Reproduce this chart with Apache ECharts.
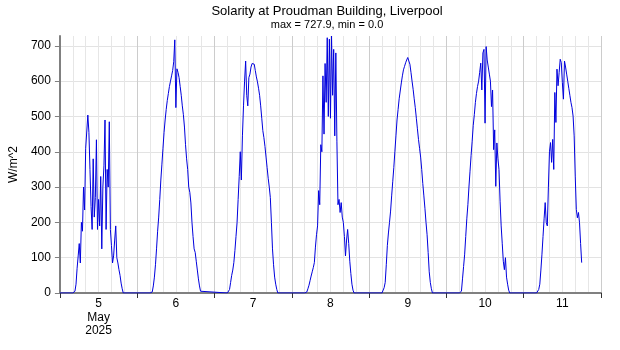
<!DOCTYPE html>
<html><head><meta charset="utf-8">
<script src="https://cdn.jsdelivr.net/npm/echarts@6/dist/echarts.min.js"></script>
<style>html,body{margin:0;padding:0;background:#fff}#c{width:620px;height:350px}</style>
</head><body><div id="c"></div>
<script>
const chartTitle = 'Solarity at Proudman Building, Liverpool';
const chartSubtitle = 'max = 727.9, min = 0.0';
const yAxisName = 'W/m^2';
const dayLabels = ['5\nMay\n2025', '6', '7', '8', '9', '10', '11'];
const yTickLabels = [0, 100, 200, 300, 400, 500, 600, 700];
const firstSampleHour = 4;      // each day array starts at 04:00 UTC
const stepHours = 1 / 3;        // 20-minute samples

const day5 = [0,0,5, 25,70,105, 140,85,200, 175,300,235, 410,405,504, 455,350,245, 180,380,215, 270,434,180, 265,190,330, 125,300,360, 490,180,350, 300,485,180, 135,85,105, 150,190,100, 85,66,50, 28,12,0, 0];
const day6 = [0,0,3, 20,45,80, 125,175,215, 265,320,365, 410,455,490, 520,545,565, 585,600,615, 630,655,717, 525,635,625, 610,585,560, 530,505,470, 420,380,350, 300,285,255, 200,160,125, 115,90,65, 40,20,5, 0];
const day7 = [0,0,10, 30,50,65, 86,120,160, 199,265,330, 400,320,445, 530,600,657, 560,530,610, 620,640,650, 655,648,630, 612,598,580, 560,530,495, 460,440,415, 385,355,325, 300,270,200, 125,80,45, 25,10,0, 0];
const day8 = [0,0,3, 12,22,35, 48,60,72, 86,130,165, 190,290,250, 420,400,615, 450,650,540, 723,500,719, 495,727.9,560, 690,445,680, 430,250,265, 228,256,215, 200,160,105, 150,180,140, 90,55,25, 8,0,0, 0];
const day9 = [0,2,15, 30,80,135, 170,200,232, 275,315,355, 400,445,490, 520,550,545, 595,615,632, 642,652,660, 667,657,648, 625,600,577, 550,525,495, 465,435,410, 385,350,310, 275,240,200, 165,115,60, 30,12,0, 0];
const day10 = [0,0,5, 40,75,110, 160,210,250, 300,345,390, 430,475,505, 540,565,585, 600,625,651, 575,680,690, 481,698,660, 640,620,600, 528,575,406, 462,302,425, 380,350,260, 190,141,90, 66,100,45, 25,8,0, 0];
const day11 = [0,0,10, 25,65,110, 160,210,256, 200,190,300, 400,426,370, 435,350,568, 483,634,587, 624,662,653, 596,549,657, 640,620,600, 580,560,540, 525,501,445, 331,237,213, 228,199,140, 86];

const days = [day5, day6, day7, day8, day9, day10, day11];
const seriesData = [[0, 0]];
days.forEach((arr, d) => arr.forEach((v, i) => seriesData.push([d * 24 + firstSampleHour + i * stepHours, v])));

const font = 'Liberation Sans, Arial, sans-serif';
const chart = echarts.init(document.getElementById('c'), null, {renderer: 'canvas'});
chart.setOption({
  animation: false,
  backgroundColor: '#fff',
  textStyle: {fontFamily: font},
  title: {
    text: chartTitle, subtext: chartSubtitle, left: 322, textAlign: 'center', top: 0, itemGap: 1,
    textStyle: {fontSize: 13, fontWeight: 'normal', color: '#000', fontFamily: font},
    subtextStyle: {fontSize: 11, color: '#000', fontFamily: font}
  },
  grid: {left: 54, right: 19, top: 36, bottom: 57, containLabel: false},
  xAxis: [
    {type: 'value', min: 0, max: 168, interval: 4,
     axisLine: {show: false}, axisTick: {show: false}, axisLabel: {show: false},
     splitLine: {show: true, lineStyle: {color: '#e6e6e6', width: 1}}},
    {type: 'value', min: 0, max: 168, interval: 24, position: 'bottom',
     axisLine: {show: true, onZero: false, lineStyle: {color: '#808080', width: 2}},
     axisTick: {show: true, length: 5, lineStyle: {color: '#333', width: 1}},
     axisLabel: {show: true, customValues: [12, 36, 60, 84, 108, 132, 156],
       formatter: v => dayLabels[Math.round((v - 12) / 24)],
       fontSize: 12, color: '#000', lineHeight: 13.5, margin: 4, fontFamily: font},
     splitLine: {show: true, lineStyle: {color: '#cccccc', width: 1}}}
  ],
  yAxis: {
    type: 'value', min: 0, max: 727.9, interval: 50,
    name: yAxisName, nameLocation: 'middle', nameGap: 34, nameRotate: 90,
    nameTextStyle: {fontSize: 12, color: '#000', fontFamily: font},
    axisLine: {show: true, onZero: false, lineStyle: {color: '#808080', width: 2}},
    axisTick: {show: true, customValues: yTickLabels, length: 5, lineStyle: {color: '#808080'}},
    axisLabel: {customValues: yTickLabels, fontSize: 12, color: '#000', margin: 9, fontFamily: font},
    splitLine: {show: true, lineStyle: {color: '#e3e3e3', width: 1}}
  },
  series: [{
    type: 'line', xAxisIndex: 0, data: seriesData, showSymbol: false, symbol: 'none',
    lineStyle: {color: '#0000dd', width: 1}, sampling: null
  }]
});
</script></body></html>
